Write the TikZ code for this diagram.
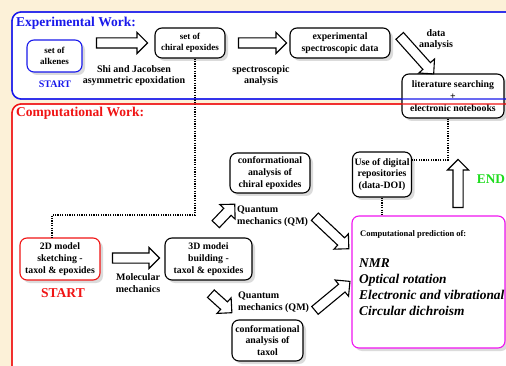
\documentclass[tikz,border=0pt]{standalone}
\usepackage{fontspec}
\setmainfont{Liberation Serif}
\usetikzlibrary{shapes.arrows,shadows,calc}
\definecolor{cream}{RGB}{252,241,216}
\definecolor{fblue}{RGB}{25,25,235}
\definecolor{fred}{RGB}{240,20,20}
\definecolor{fgreen}{RGB}{30,220,30}
\definecolor{fmag}{RGB}{240,20,240}
\tikzset{
 box/.style={draw, line width=1.1pt, rounded corners=7pt, fill=white, align=center,
   font=\bfseries\fontsize{9.8}{11.8}\selectfont, inner sep=1pt,
   drop shadow={shadow xshift=3pt, shadow yshift=-3pt, fill=black!28}},
 smallbox/.style={box, font=\bfseries\fontsize{9}{10.6}\selectfont},
 lbl/.style={font=\bfseries\fontsize{10}{11.5}\selectfont, align=center, inner sep=0pt},
 harrow/.style={single arrow, draw, line width=1.1pt, fill=white, minimum width=20pt,
   single arrow head extend=5.5pt, single arrow head indent=0pt, inner xsep=0pt, inner ysep=4.5pt},
 dotline/.style={line width=1.3pt, dash pattern=on 1.2pt off 1.2pt},
 frame/.style={line width=1.3pt, rounded corners=9pt},
 title/.style={font=\bfseries\fontsize{13.5}{15}\selectfont, inner sep=0pt},
}
\newcommand\harr[3]{\path let \p1=(#2), \p2=(#3), \n1={veclen(\x2-\x1,\y2-\y1)}, \n2={atan2(\y2-\y1,\x2-\x1)} in node[harrow, minimum height=\n1, rotate=\n2] (#1) at ($(\p1)!0.5!(\p2)$) {};}
\begin{document}
\begin{tikzpicture}[x=1pt,y=-1pt]
\clip (0,0) rectangle (506,366);
\fill[cream] (0,0) rectangle (506,366);
\draw[frame, fblue, fill=white] (12,12) rectangle (530,99);
\draw[frame, fred, fill=white] (12,104) rectangle (530,395);

% titles
\node[title, text=fblue, anchor=base west] (expt) at (16,27) {Experimental Work:};
\node[title, text=fred, anchor=base west] (compt) at (16,117) {Computational Work:};

% boxes
\node[smallbox, draw=fblue, minimum width=55pt, minimum height=32pt] (alk) at (54.5,56) {set of\\alkenes};
\node[smallbox, minimum width=70pt, minimum height=30pt] (epox) at (190,43) {set of\\chiral epoxides};
\node[box, minimum width=100pt, minimum height=30pt] (expdata) at (340,43) {experimental\\spectroscopic data};
\node[box, minimum width=102pt, minimum height=44pt] (lit) at (453,96) {literature searching\\+\\electronic notebooks};
\node[box, inner sep=0pt, minimum width=59pt, minimum height=45pt] (digi) at (382,174.5) {Use of digital\\repositories\\(data-DOI)};
\node[box, minimum width=80pt, minimum height=40pt] (confep) at (270,173) {conformational\\analysis of\\chiral epoxides};
\node[box, draw=fred, minimum width=80pt, minimum height=42pt] (twoD) at (60,259) {2D model\\sketching -\\taxol \& epoxides};
\node[box, minimum width=87pt, minimum height=42pt] (threeD) at (208.5,259) {3D modei\\building -\\taxol \& epoxides};
\node[box, minimum width=71pt, minimum height=41pt] (conftx) at (267.5,340.5) {conformational\\analysis of\\taxol};
\node[box, draw=fmag, minimum width=153pt, minimum height=132pt] (pred) at (428.5,282) {};

% texts in prediction box
\node[lbl, font=\bfseries\fontsize{8.5}{10}\selectfont, anchor=west] (predt) at (360,234) {Computational prediction of:};
\node[anchor=west, align=left, inner sep=0pt, font=\bfseries\itshape\fontsize{13.4}{16}\selectfont] (items) at (359,287) {NMR\\Optical rotation\\Electronic and vibrational\\Circular dichroism};

% labels
\node[font=\bfseries\fontsize{10}{12}\selectfont, text=fblue] (start1) at (55,84) {START};
\node[title, text=fred] (start2) at (63,293) {START};
\node[font=\bfseries\fontsize{13.3}{15}\selectfont, text=fgreen, inner sep=0pt] (endl) at (491,179) {END};
\node[lbl] (shi) at (134,75.5) {Shi and Jacobsen\\asymmetric epoxidation};
\node[lbl] (spec) at (261,75.5) {spectroscopic\\analysis};
\node[lbl] (dana) at (436,39.5) {data\\analysis};
\node[lbl, anchor=west, align=left] (qm1) at (237,216.5) {Quantum\\mechanics (QM)};
\node[lbl, anchor=west, align=left] (qm2) at (238,302.5) {Quantum\\mechanics (QM)};
\node[lbl] (molm) at (138,283) {Molecular\\mechanics};

% hollow arrows
\coordinate (a1s) at (94,43);   \coordinate (a1e) at (145,43);
\coordinate (a2s) at (236,43);  \coordinate (a2e) at (284,43);
\coordinate (a3s) at (398,34);  \coordinate (a3e) at (432,72);
\coordinate (a4s) at (458,210); \coordinate (a4e) at (458,162);
\coordinate (a5s) at (110,258); \coordinate (a5e) at (157,258);
\coordinate (a6s) at (209,292); \coordinate (a6e) at (230,311);
\coordinate (a7s) at (214,226); \coordinate (a7e) at (233,206);
\coordinate (a8s) at (313,215); \coordinate (a8e) at (347,247);
\coordinate (a9s) at (313,312); \coordinate (a9e) at (348,283);
\harr{h1}{a1s}{a1e}
\harr{h2}{a2s}{a2e}
\harr{h3}{a3s}{a3e}
\harr{h4}{a4s}{a4e}
\harr{h5}{a5s}{a5e}
\harr{h6}{a6s}{a6e}
\harr{h7}{a7s}{a7e}
\harr{h8}{a8s}{a8e}
\harr{h9}{a9s}{a9e}

% dotted connectors
\coordinate (k1) at (52,215);
\coordinate (k2) at (448,160);
\draw[dotline] ([xshift=5pt]epox.south) |- (k1) -- (k1 |- twoD.north);
\draw[dotline] (lit.south -| k2) -- (k2) -- (k2 -| digi.east);
\draw[dotline] (digi.south) -- (digi.south |- pred.north);

% frame borders on top
\draw[frame, fblue] (12,12) rectangle (530,99);
\draw[frame, fred] (12,104) rectangle (530,395);
\end{tikzpicture}
\end{document}
